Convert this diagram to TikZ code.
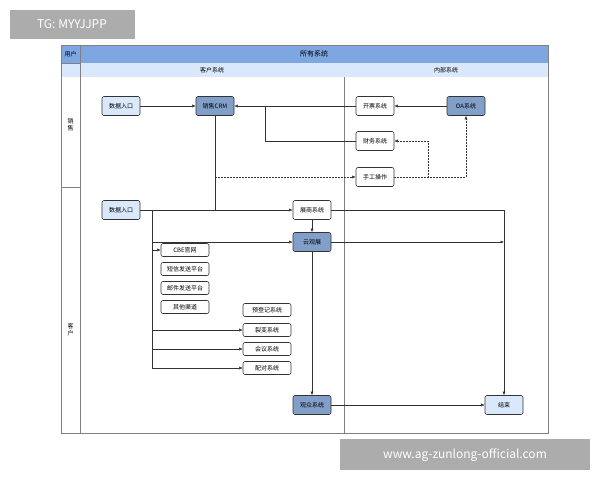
\documentclass[tikz,border=0pt]{standalone}
\usepackage{fontspec}
\setmainfont{Noto Sans CJK SC}
\usetikzlibrary{arrows.meta}
\definecolor{hdrblue}{HTML}{7EA6E0}
\definecolor{subblue}{HTML}{DAE8FC}
\definecolor{boxblue}{HTML}{6C8EBF}
\definecolor{lineg}{HTML}{333333}
\begin{document}
\begin{tikzpicture}[x=1pt,y=-1pt,
    box/.style={draw=lineg, rounded corners=2pt, minimum height=19pt, minimum width=38pt,
        inner sep=1pt, font=\fontsize{6}{7}\selectfont, line width=0.6pt},
    light/.style={box, fill=subblue},
    dark/.style={box, fill=boxblue!85},
    wide/.style={box, minimum height=13pt, minimum width=48pt},
    arr/.style={-{Latex[length=3.5pt,width=3pt]}, draw=lineg, line width=0.5pt},
    ln/.style={draw=lineg, line width=0.5pt},
    dsh/.style={arr, dash pattern=on 1.5pt off 1.5pt}
    ]
    \useasboundingbox (0,0) rectangle (600,480);
    % watermarks
    \fill[gray!65] (10,10) rectangle (135,39);
    \node[text=white, font=\fontsize{12}{13}\selectfont] (wm1) at (72,24) {TG: MYYJJPP};
    \fill[gray!65] (340,439) rectangle (590,470);
    \node[text=white, font=\fontsize{12}{13}\selectfont] (wm2) at (465,455) {www.ag-zunlong-official.com};
    % lanes
    \fill[hdrblue] (61,45) rectangle (548,63);
    \fill[subblue] (80,63) rectangle (548,77);
    \fill[subblue] (61,63) rectangle (80,77);
    \draw[gray, line width=0.8pt] (61,45) rectangle (548,433);
    \draw[gray, line width=0.8pt] (80,45) -- (80,433);
    \draw[gray, line width=0.8pt] (61,63) -- (80,63);
    \draw[gray, line width=0.8pt] (61,187) -- (80,187);
    \draw[gray, line width=0.8pt] (344,77) -- (344,433);
    \node[font=\fontsize{6}{7}\selectfont] (hu) at (70.5,54) {用户};
    \node[font=\fontsize{7}{8}\selectfont] (hall) at (314,54) {所有系统};
    \node[font=\fontsize{6}{7}\selectfont] (hcust) at (212,70) {客户系统};
    \node[font=\fontsize{6}{7}\selectfont] (hin) at (446,70) {内部系统};
    \node[font=\fontsize{6}{7}\selectfont, align=center] (lsale) at (70.5,125) {销\\售};
    \node[font=\fontsize{6}{7}\selectfont, align=center] (lcust) at (70.5,330) {客\\户};
    % nodes
    \node[light] (in1) at (121,106) {数据入口};
    \node[dark] (crm) at (215,106) {销售CRM};
    \node[box] (inv) at (375,106) {开票系统};
    \node[dark] (oa) at (466,106) {OA系统};
    \node[box] (fin) at (375,141) {财务系统};
    \node[box] (man) at (375,177) {手工操作};
    \node[light] (in2) at (121,210) {数据入口};
    \node[box] (exh) at (312,210) {展商系统};
    \node[dark] (cloud) at (312,242) {云观展};
    \node[wide] (cbe) at (185,250) {CBE官网};
    \node[wide] (sms) at (185,269) {短信发送平台};
    \node[wide] (mail) at (185,288) {邮件发送平台};
    \node[wide] (other) at (185,307) {其他渠道};
    \node[wide] (prereg) at (267,310) {预登记系统};
    \node[wide] (fiss) at (267,330) {裂变系统};
    \node[wide] (meet) at (267,349) {会议系统};
    \node[wide] (pair) at (267,368) {配对系统};
    \node[dark] (aud) at (312,405) {观众系统};
    \node[light] (end) at (504,405) {结束};
    % sales lane
    \draw[arr] (in1) -- (crm);
    \draw[arr] (inv) -- (crm);
    \draw[arr] (oa) -- (inv);
    \draw[ln] (fin.west) -| (265,106);
    \draw[ln] (crm.south) -- (215,210);
    \draw[dsh] (215,177) -- (man.west);
    \draw[dsh] (man.east) -| (428,141) -- (fin.east);
    \draw[dsh] (man.east) -| (oa.south);
    % customer lane
    \draw[arr] (in2) -- (exh);
    \draw[arr] (exh.east) -| (end.north);
    \draw[arr] (exh) -- (cloud);
    \draw[arr] (cloud) -- (aud);
    \draw[arr] (cloud.east) -- (504,242);
    \draw[ln] (152,210) -- (152,368);
    \draw[arr] (152,242) -- (cloud.west);
    \draw[arr] (152,250) -- (cbe.west);
    \draw[arr] (152,330) -- (fiss.west);
    \draw[arr] (152,349) -- (meet.west);
    \draw[arr] (152,368) -- (pair.west);
    \draw[arr] (aud) -- (end);
\end{tikzpicture}
\end{document}
